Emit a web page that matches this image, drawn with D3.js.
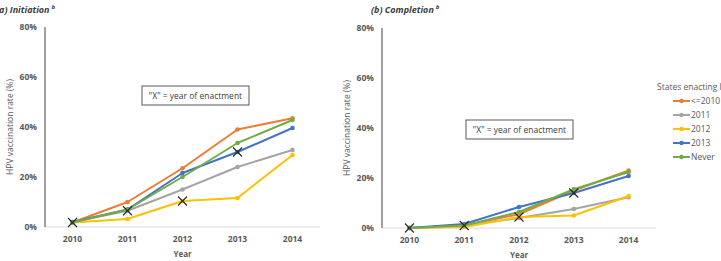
<!DOCTYPE html>
<html lang="en">
<head>
  <meta charset="UTF-8">
  <title>HPV vaccination rate by year of enactment</title>
  <script src="https://d3js.org/d3.v7.min.js"></script>
  <style>
    body { margin: 0; background: #fff; }
    svg { display: block; font-family: "Open Sans", sans-serif; }
    .tick-label { font-size: 8.5px; font-weight: bold; fill: #595959; }
    .axis-title { font-size: 8px; font-weight: bold; fill: #595959; }
    .y-title { font-size: 8.5px; fill: #595959; }
    .panel-title { font-size: 9px; font-weight: bold; font-style: italic; fill: #404040; }
    .note { font-size: 8.5px; fill: #404040; }
    .legend text { font-size: 8.5px; fill: #595959; }
  </style>
</head>
<body>
  <svg width="721" height="261"></svg>

  <script>
    // values (percent)
    const years = [2010, 2011, 2012, 2013, 2014];
    const groups = ['<=2010', '2011', '2012', '2013', 'Never'];
    const colors = ['#ED7D31', '#A5A5A5', '#FFC000', '#4472C4', '#70AD47'];
    const yTicks = [0, 20, 40, 60, 80];

    const initLe2010 = [1.8, 10, 23.5, 39, 43.5];
    const init2011   = [2, 6.5, 15, 24, 30.8];
    const init2012   = [1.8, 3.2, 10.4, 11.6, 28.8];
    const init2013   = [2, 7, 21.6, 30, 39.6];
    const initNever  = [1.8, 7, 20, 33.6, 42.8];

    const compLe2010 = [0, 1, 5.5, 15, 23];
    const comp2011   = [0, 1, 4, 7.6, 12.3];
    const comp2012   = [0, 0.4, 4.4, 5, 12.8];
    const comp2013   = [0, 1.6, 8.4, 14, 20.8];
    const compNever  = [0, 1, 6.4, 15.5, 22.4];

    // year in which each group enacted (marked with X)
    const enactYear = [2010, 2011, 2012, 2013, null];

    const svg = d3.select('svg');

    function drawPanel(cfg) {
      const g = svg.append('g');
      const x = d3.scalePoint().domain(years).range([cfg.left, cfg.right]).padding(0.5);
      const y = d3.scaleLinear().domain([0, 80]).range([cfg.bottom, cfg.top]);

      // baseline + y axis line
      g.append('line')
        .attr('x1', cfg.left).attr('x2', cfg.right)
        .attr('y1', y(0)).attr('y2', y(0))
        .attr('stroke', '#d9d9d9').attr('stroke-width', 1);
      g.append('line')
        .attr('x1', cfg.left).attr('x2', cfg.left)
        .attr('y1', y(80)).attr('y2', y(0))
        .attr('stroke', '#808080').attr('stroke-width', 1.5);

      g.selectAll('.ytl').data(yTicks).enter().append('text')
        .attr('class', 'tick-label')
        .attr('x', cfg.left - 8).attr('y', d => y(d) + 3)
        .attr('text-anchor', 'end')
        .text(d => d + '%');

      g.selectAll('.xtl').data(years).enter().append('text')
        .attr('class', 'tick-label')
        .attr('x', d => x(d)).attr('y', cfg.bottom + 15)
        .attr('text-anchor', 'middle')
        .text(d => d);

      g.append('text').attr('class', 'axis-title')
        .attr('x', x(2012)).attr('y', cfg.bottom + 30)
        .attr('text-anchor', 'middle').text('Year');

      g.append('text').attr('class', 'y-title')
        .attr('transform', `translate(${cfg.left - 32},${y(40)}) rotate(-90)`)
        .attr('text-anchor', 'middle')
        .text('HPV vaccination rate (%)');

      const title = g.append('text').attr('class', 'panel-title')
        .attr('x', cfg.titleX).attr('y', 13);
      title.append('tspan').text(cfg.title);
      title.append('tspan').attr('dx', 2).attr('dy', -4).attr('font-size', '6px').text('b');

      // note box
      const nb = g.append('g').attr('transform', `translate(${cfg.noteX},${cfg.noteY})`);
      nb.append('rect').attr('width', 107).attr('height', 19)
        .attr('fill', '#fff').attr('stroke', '#595959').attr('stroke-width', 1);
      nb.append('text').attr('class', 'note')
        .attr('x', 53.5).attr('y', 12.5).attr('text-anchor', 'middle')
        .text('"X" = year of enactment');

      const line = d3.line().x((d, i) => x(years[i])).y(d => y(d));
      cfg.series.forEach((vals, k) => {
        g.append('path').datum(vals)
          .attr('d', line)
          .attr('fill', 'none')
          .attr('stroke', colors[k])
          .attr('stroke-width', 2)
          .attr('stroke-linejoin', 'round');
        g.selectAll(null).data(vals).enter().append('circle')
          .attr('cx', (d, i) => x(years[i])).attr('cy', d => y(d))
          .attr('r', 2.3).attr('fill', colors[k]);
      });

      // X markers
      cfg.series.forEach((vals, k) => {
        if (enactYear[k] == null) return;
        const v = vals[years.indexOf(enactYear[k])];
        const cx = x(enactYear[k]), cy = y(v), s = 4.5;
        g.append('path')
          .attr('d', `M${cx - s},${cy - s}L${cx + s},${cy + s}M${cx - s},${cy + s}L${cx + s},${cy - s}`)
          .attr('stroke', '#262626').attr('stroke-width', 1.1).attr('fill', 'none');
      });
    }

    drawPanel({
      left: 45, right: 320, top: 27, bottom: 227, titleX: -4,
      title: '(a) Initiation', noteX: 142, noteY: 86,
      series: [initLe2010, init2011, init2012, init2013, initNever]
    });

    drawPanel({
      left: 382, right: 656, top: 28, bottom: 228, titleX: 371,
      title: '(b) Completion', noteX: 466, noteY: 120,
      series: [compLe2010, comp2011, comp2012, comp2013, compNever]
    });

    // legend
    const legend = svg.append('g').attr('class', 'legend');
    legend.append('text').attr('x', 657).attr('y', 90).text('States enacting law');
    groups.forEach((name, i) => {
      const yy = 101 + i * 14;
      legend.append('line').attr('x1', 673).attr('x2', 690).attr('y1', yy).attr('y2', yy)
        .attr('stroke', colors[i]).attr('stroke-width', 2);
      legend.append('circle').attr('cx', 681.5).attr('cy', yy).attr('r', 2.2).attr('fill', colors[i]);
      legend.append('text').attr('x', 691).attr('y', yy + 3).text(name);
    });
  </script>
</body>
</html>
